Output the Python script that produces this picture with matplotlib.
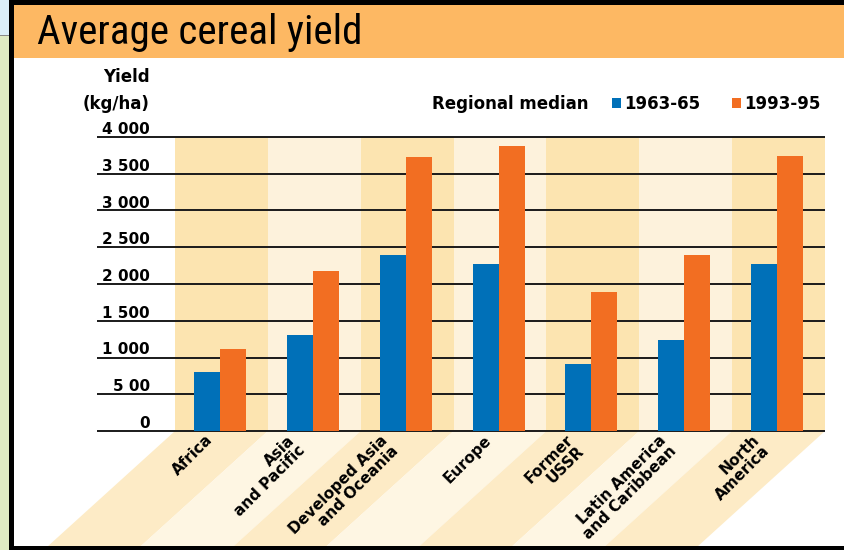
import matplotlib
matplotlib.use('Agg')
import matplotlib.pyplot as plt
from matplotlib import font_manager
from matplotlib.patches import Rectangle, Polygon

# Datos (kg/ha)
regions = ['Africa', 'Asia\nand Pacific', 'Developed Asia\nand Oceania', 'Europe',
           'Former\nUSSR', 'Latin America\nand Caribbean', 'North\nAmerica']
yield_1963_65 = [800, 1300, 2390, 2270, 915, 1240, 2270]
yield_1993_95 = [1120, 2180, 3730, 3880, 1885, 2390, 3740]
series_labels = ['1963-65', '1993-95']
y_ticks = [0, 500, 1000, 1500, 2000, 2500, 3000, 3500, 4000]
y_tick_labels = ['0', '5 00', '1 000', '1 500', '2 000', '2 500', '3 000', '3 500', '4 000']

W, H = 844, 550
BLUE = '#0070b8'
ORANGE = '#f26e22'
BAND_DARK = '#fce4b0'
BAND_LIGHT = '#fdf2dc'
BELOW_DARK = '#fdebc6'
BELOW_LIGHT = '#fef6e3'
TITLE_BG = '#fdb863'

# Fuente estrecha para el titulo, si existe alguna
title_kw = dict(family='DejaVu Sans', fontsize=23)
fonts = font_manager.fontManager.ttflist
names = {f.name for f in fonts}
for cand in ['Liberation Sans Narrow', 'DejaVu Sans Condensed', 'Roboto Condensed',
             'Open Sans Condensed', 'Noto Sans Condensed']:
    if cand in names:
        title_kw = dict(family=cand, fontsize=29.5)
        break
else:
    if any(f.name == 'DejaVu Sans' and f.stretch in ('condensed', 700, '700')
           for f in fonts):
        title_kw = dict(family='DejaVu Sans', fontstretch='condensed', fontsize=28)

fig = plt.figure(figsize=(W / 100, H / 100), dpi=100)
fig.patch.set_facecolor('white')

# --- marco y barra de titulo (coordenadas en pixeles) ---
deco = fig.add_axes([0, 0, 1, 1], zorder=5)
deco.set_xlim(0, W)
deco.set_ylim(H, 0)
deco.axis('off')
deco.add_patch(Rectangle((0, 0), 12, 35, color='#dceff9', lw=0))
deco.add_patch(Rectangle((0, 35), 12, 1, color='#8a8a8a', lw=0))
deco.add_patch(Rectangle((0, 36), 9, H - 36, color='#dfeac3', lw=0))
deco.add_patch(Rectangle((9, 0), 5, H, color='black', lw=0))
deco.add_patch(Rectangle((9, 0), W - 9, 5, color='black', lw=0))
deco.add_patch(Rectangle((14, 5), W - 14, 53, color=TITLE_BG, lw=0))
deco.add_patch(Rectangle((9, 546), W - 9, 4, color='black', lw=0))
deco.text(37, 33, 'Average cereal yield', va='center', ha='left', color='black',
          **title_kw)

# --- eje principal ---
x0, x1, y0, y1 = 175, 825, 431, 137
ax = fig.add_axes([x0 / W, (H - y0) / H, (x1 - x0) / W, (y0 - y1) / H], zorder=2)
ax.set_xlim(-0.5, 6.5)
ax.set_ylim(0, 4000)
ax.patch.set_alpha(0)
for s in ax.spines.values():
    s.set_visible(False)

px_x = (x1 - x0) / 7.0           # pixeles por categoria
px_y = (y0 - y1) / 4000.0        # pixeles por kg/ha
grid_left = -0.5 - (x0 - 97) / px_x
depth = (547 - y0) / px_y
shift = 128 / px_x

for i in range(len(regions)):
    ax.axvspan(i - 0.5, i + 0.5, color=BAND_DARK if i % 2 == 0 else BAND_LIGHT,
               lw=0, zorder=0)
    ax.add_patch(Polygon([(i - 0.5, 0), (i + 0.5, 0), (i + 0.5 - shift, -depth),
                          (i - 0.5 - shift, -depth)], closed=True, lw=0,
                         color=BELOW_DARK if i % 2 == 0 else BELOW_LIGHT,
                         clip_on=False, zorder=0))

ax.hlines(y_ticks, grid_left, 6.5, colors='#1a1a1a', lw=1.4, clip_on=False, zorder=1)

x = list(range(len(regions)))
bw = 0.28
off = 0.016
b1 = ax.bar([v - bw / 2 - off for v in x], yield_1963_65, bw, color=BLUE,
            label=series_labels[0], zorder=2)
b2 = ax.bar([v + bw / 2 - off for v in x], yield_1993_95, bw, color=ORANGE,
            label=series_labels[1], zorder=2)

# etiquetas de categoria inclinadas
ax.set_xticks([v - 6 / px_x for v in x], regions, rotation=45, ha='right',
              fontsize=11, fontweight='bold', linespacing=1.0)
ax.tick_params(axis='x', length=0, pad=1)

# etiquetas del eje y a la izquierda, sobre cada linea
ax.set_yticks(y_ticks, y_tick_labels, fontsize=11, fontweight='bold')
ax.tick_params(axis='y', length=0, pad=18)
for lab in ax.get_yticklabels():
    lab.set_va('bottom')

fig.text(150 / W, (H - 77) / H, 'Yield', ha='right', va='center',
         fontsize=12, fontweight='bold')
fig.text(150 / W, (H - 104) / H, '(kg/ha)', ha='right', va='center',
         fontsize=12, fontweight='bold')
fig.text(588 / W, (H - 104) / H, 'Regional median', ha='right', va='center',
         fontsize=12, fontweight='bold')

leg = fig.legend(handles=[b1, b2], loc='center right',
                 bbox_to_anchor=(821 / W, (H - 104) / H), ncol=2, frameon=False,
                 prop={'size': 12, 'weight': 'bold'}, handlelength=0.55,
                 handleheight=0.55, handletextpad=0.2, columnspacing=1.9,
                 borderpad=0, borderaxespad=0)

fig.savefig('out.png', dpi=100)
